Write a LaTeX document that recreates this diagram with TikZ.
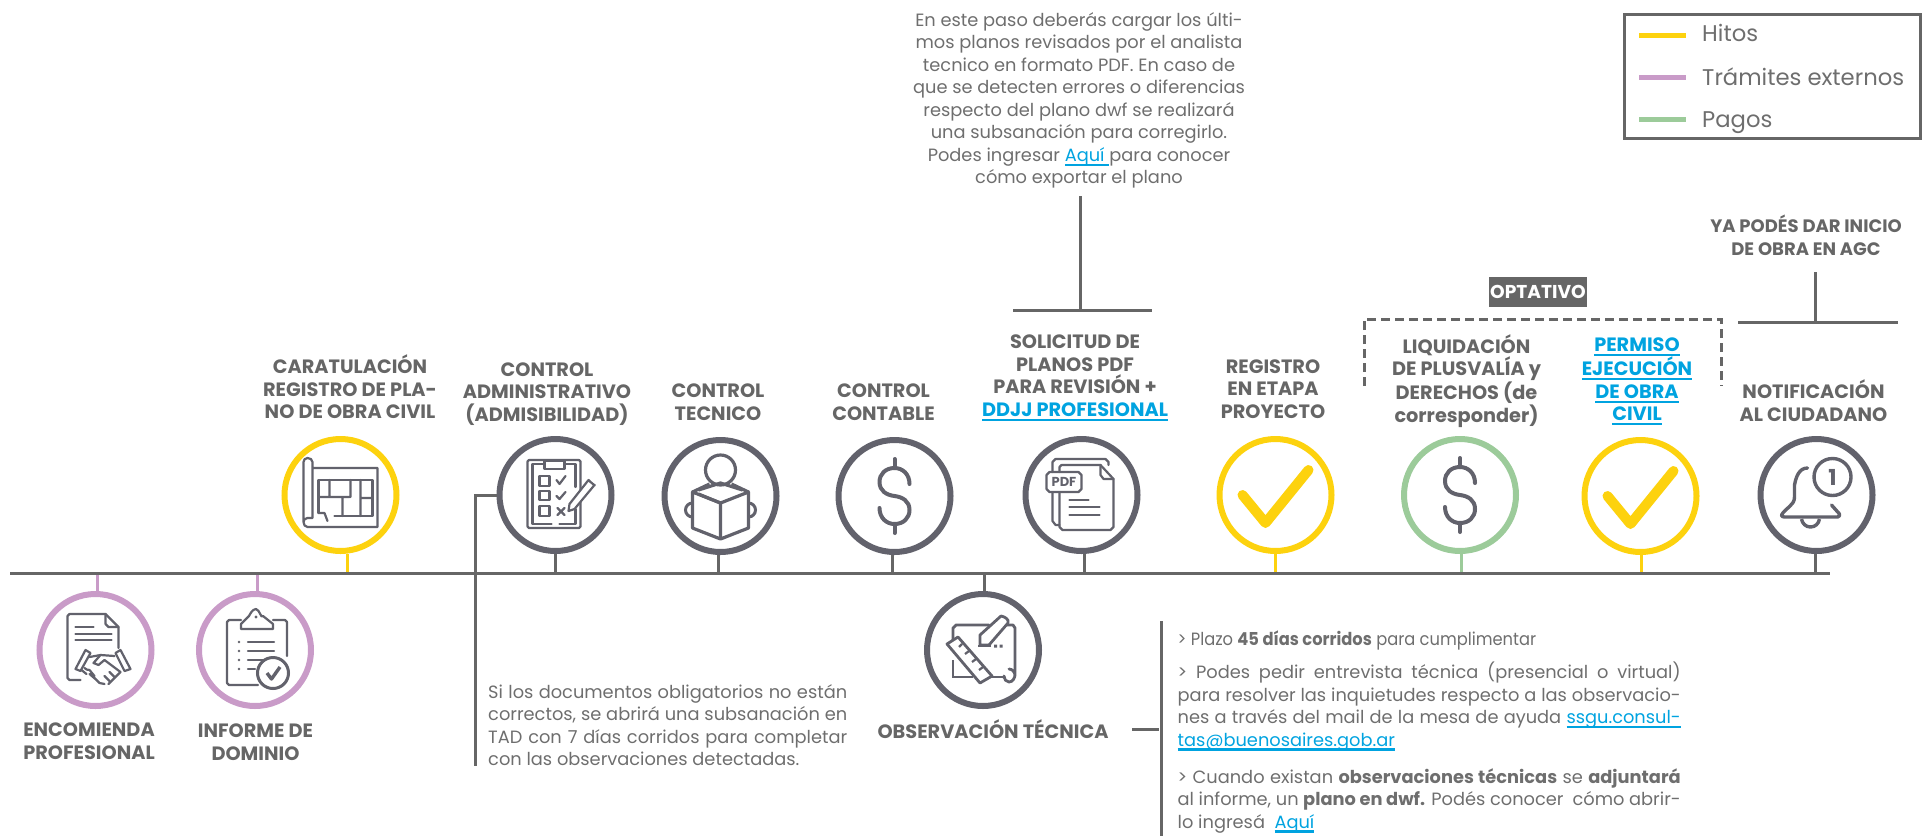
\documentclass[tikz,border=0pt]{standalone}
\usepackage{fontspec}
\usepackage{graphicx}
\setmainfont{Poppins}
\usetikzlibrary{calc}
\definecolor{txt}{HTML}{666666}
\definecolor{btxt}{HTML}{6E6E6E}
\definecolor{line}{HTML}{666666}
\definecolor{ring}{HTML}{62626C}
\definecolor{hito}{HTML}{FDD20E}
\definecolor{tram}{HTML}{C99BC8}
\definecolor{pago}{HTML}{9CCB9A}
\definecolor{link}{HTML}{00A3E0}
\newcommand\lnk[1]{{\color{link}\setbox0\hbox{#1}\rlap{\raisebox{-4.6pt}{\rule{\wd0}{2.3pt}}}\box0}}
\newcommand\jl[1]{\hbox to 503pt{#1}}
\newcommand\bd[1]{{\bfseries #1}}
\newcommand\bfs{\fontsize{17.8}{22.5}\selectfont}
\tikzset{
  x=1pt,y=-1pt,
  circ/.style={circle,line width=6pt,minimum size=112pt,inner sep=0pt,fill=white},
  rail/.style={draw=line,line width=3pt},
  tick/.style={line width=3pt},
  lab/.style={text=txt,align=center,inner sep=0pt,font=\fontsize{19.3}{22.5}\selectfont\bfseries},
  body/.style={text=btxt,inner sep=0pt,font=\bfs},
  leglab/.style={text=btxt,anchor=west,inner sep=0pt,font=\fontsize{22.7}{26}\selectfont},
  ic/.style={draw=ring,line width=2.2pt,line join=round,line cap=round},
  ich/.style={draw=hito,line width=10pt,line cap=round,line join=round},
  icd/.style={draw=ring,line width=4pt,line cap=round}
}
\newcommand\dollar[1]{\begin{scope}[shift={(#1)}]
\draw[icd] (15,-12) .. controls (15,-22) and (8,-28) .. (0,-28) .. controls (-9,-28) and (-15,-22) .. (-15,-14) .. controls (-15,-5) and (-8,-1) .. (0,0) .. controls (8,1) and (15,5) .. (15,14) .. controls (15,22) and (9,28) .. (0,28) .. controls (-8,28) and (-15,22) .. (-15,12);
\draw[icd] (0,-37)--(0,-28) (0,28)--(0,37);
\end{scope}}
\newcommand\bigcheck[1]{\begin{scope}[shift={(#1)}]
\draw[ich] (-33,0) -- (-10,28) -- (33,-25);
\end{scope}}
\begin{document}
\begin{tikzpicture}
\useasboundingbox (0,0) rectangle (1927,836);
% rail coordinates
\coordinate (railL) at (10,573);
\coordinate (railR) at (1830,573);
\coordinate (t1) at (97,573);
\coordinate (t2) at (257,573);
\coordinate (t3) at (347,573);
\coordinate (t4) at (555,573);
\coordinate (t5) at (718,573);
\coordinate (t6) at (892,573);
\coordinate (t7) at (984,573);
\coordinate (t8) at (1084,573);
\coordinate (t9) at (1275.5,573);
\coordinate (t10) at (1461,573);
\coordinate (t11) at (1641.5,573);
\coordinate (t12) at (1815,573);
% circles
\node[circ,draw=tram] (enc) at (95.5,650) {};
\node[circ,draw=tram] (inf) at (255,650) {};
\node[circ,draw=hito] (car) at (340.5,495) {};
\node[circ,draw=ring] (adm) at (555.5,495) {};
\node[circ,draw=ring] (tec) at (720.5,496) {};
\node[circ,draw=ring] (con) at (894.5,496) {};
\node[circ,draw=ring] (sol) at (1081.5,495) {};
\node[circ,draw=hito] (reg) at (1275.5,495) {};
\node[circ,draw=ring] (obs) at (983,650) {};
\node[circ,draw=pago] (liq) at (1460,495) {};
\node[circ,draw=hito] (per) at (1640.5,496) {};
\node[circ,draw=ring] (not) at (1816.5,495) {};
% ticks
\draw[tick,draw=tram] (t1) -- (t1 |- enc.north);
\draw[tick,draw=tram] (t2) -- (t2 |- inf.north);
\draw[tick,draw=hito] (t3) -- (t3 |- car.south);
\draw[tick,draw=line] (t4) -- (t4 |- adm.south);
\draw[tick,draw=line] (t5) -- (t5 |- tec.south);
\draw[tick,draw=line] (t6) -- (t6 |- con.south);
\draw[tick,draw=line] (t7) -- (t7 |- obs.north);
\draw[tick,draw=line] (t8) -- (t8 |- sol.south);
\draw[tick,draw=hito] (t9) -- (t9 |- reg.south);
\draw[tick,draw=pago] (t10) -- (t10 |- liq.south);
\draw[tick,draw=hito] (t11) -- (t11 |- per.south);
\draw[tick,draw=line] (t12) -- (t12 |- not.south);
\draw[rail] (railL) -- (railR);
% admissibility bracket
\coordinate (admB) at (475.5,766);
\draw[rail] (adm.west) -- (475.5,495) -- (admB);
\node[body,anchor=west] (admtxt) at (488,725) {\parbox{362pt}{\bfs
\hbox to 359pt{Si los documentos obligatorios no están}
\hbox to 359pt{correctos, se abrirá una subsanación en}
\hbox to 359pt{TAD con 7 días corridos para completar}
\hbox{con las observaciones detectadas.}}};
% labels
\node[lab] (lcar) at (350,387) {CARATULACIÓN\\REGISTRO DE PLA-\\NO DE OBRA CIVIL};
\node[lab] (ladm) at (547,394) {CONTROL\\ADMINISTRATIVO\\(ADMISIBILIDAD)};
\node[lab] (lenc) at (89,741) {ENCOMIENDA\\PROFESIONAL};
\node[lab] (linf) at (255.5,742) {INFORME DE\\DOMINIO};
\node[lab] (ltec) at (718,402) {CONTROL\\TECNICO};
\node[lab] (lcon) at (883.5,402) {CONTROL\\CONTABLE};
\node[lab] (lsol) at (1075,378) {SOLICITUD DE\\PLANOS PDF\\PARA REVISIÓN +\\\lnk{DDJJ PROFESIONAL}};
\node[lab] (lreg) at (1273,389) {REGISTRO\\EN ETAPA\\PROYECTO};
\node[lab] (lliq) at (1466.5,381) {LIQUIDACIÓN\\DE PLUSVALÍA y\\DERECHOS (de\\corresponder)};
\node[lab] (lper) at (1637,381.5) {\lnk{PERMISO}\\\lnk{EJECUCIÓN}\\\lnk{DE OBRA}\\\lnk{CIVIL}};
\node[lab] (lnot) at (1813.5,400.5) {NOTIFICACIÓN\\AL CIUDADANO};
\node[lab,font=\fontsize{18}{22.5}\selectfont\bfseries] (lya) at (1806,235.5) {YA PODÉS DAR INICIO\\DE OBRA EN AGC};
\node[lab,anchor=center] (lobs) at (993,729) {OBSERVACIÓN TÉCNICA};
% optativo
\node[fill=line,text=white,inner sep=0pt,minimum width=98pt,minimum height=30pt,font=\fontsize{18.6}{20}\selectfont\bfseries] (opt) at (1538,292) {OPTATIVO};
\coordinate (dA) at (1364,386);
\coordinate (dB) at (1721,386);
\draw[draw=line,line width=3pt,dash pattern=on 9pt off 5pt] (dA) -- (dA |- 0,319) -- (dB |- 0,319) -- (dB);
% top note
\node[body,align=center] (topn) at (1079,100.5) {En este paso deberás cargar los últi-\\mos planos revisados por el analista\\tecnico en formato PDF. En caso de\\que se detecten errores o diferencias\\respecto del plano dwf se realizará\\una subsanación para corregirlo.\\Podes ingresar \lnk{Aquí }para conocer\\cómo exportar el plano};
\coordinate (tnA) at (1080,196);
\coordinate (tnB) at (1080,310);
\coordinate (tnL) at (1013,310);
\coordinate (tnR) at (1152,310);
\draw[rail] (tnA) -- (tnB);
\draw[rail] (tnL) -- (tnR);
% right note
\coordinate (nA) at (1815,272);
\coordinate (nB) at (1815,322);
\coordinate (nL) at (1738,322);
\coordinate (nR) at (1898,322);
\draw[rail] (nA) -- (nB);
\draw[rail] (nL) -- (nR);
% observation panel
\coordinate (oT) at (1161.5,621);
\coordinate (oB) at (1161.5,836);
\coordinate (oL) at (1132,729);
\coordinate (oR) at (1159,729);
\draw[rail] (oT) -- (oB);
\draw[rail] (oL) -- (oR);
\node[body,anchor=west] (o1) at (1177.5,640) {\scalebox{0.915}[1]{> Plazo \bd{45 días corridos} para cumplimentar}};
\node[body,anchor=west] (o2) at (1177.5,706.5) {\parbox{510pt}{\bfs
\jl{> Podes pedir entrevista técnica (presencial o virtual)}
\jl{para resolver las inquietudes respecto a las observacio-}
\jl{nes a través del mail de la mesa de ayuda \lnk{ssgu.consul-}}
\hbox{\lnk{tas@buenosaires.gob.ar}}}};
\node[body,anchor=west] (o3) at (1177.5,800.5) {\parbox{510pt}{\bfs
\jl{> Cuando existan \bd{observaciones técnicas} se \bd{adjuntará}}
\jl{al informe, un \bd{plano en dwf.} Podés conocer\ \ cómo abrir-}
\hbox{lo ingresá\ \ \lnk{Aquí}}}};
% legend
\node[draw=line,line width=3pt,minimum width=296pt,minimum height=124pt,inner sep=0pt] (leg) at (1772,76.5) {};
\coordinate (a1) at (1639,35); \coordinate (a2) at (1686,35);
\coordinate (b1) at (1639,77); \coordinate (b2) at (1686,77);
\coordinate (c1) at (1639,119); \coordinate (c2) at (1686,119);
\draw[draw=hito,line width=5pt] (a1) -- (a2);
\draw[draw=tram,line width=5pt] (b1) -- (b2);
\draw[draw=pago,line width=5pt] (c1) -- (c2);
\node[leglab] (h1) at (1702,33) {Hitos};
\node[leglab] (h2) at (1702,77) {Trámites externos};
\node[leglab] (h3) at (1702,122.5) {Pagos};
% icons
\dollar{894.5,496}
\dollar{1460,495}
\bigcheck{1275.5,495}
\bigcheck{1640.5,496}
% plan
\begin{scope}[shift={(340.5,495)}]
\draw[ic] (-28,-27) -- (37,-27) -- (37,32) -- (-33,32) to[out=180,in=-90] (-37,27) -- (-37,-33) to[out=90,in=180] (-33,-37) to[out=0,in=90] (-28,-33) -- (-28,23) -- (-33,23) to[out=180,in=90] (-37,27);
\draw[ic] (-22,18) -- (-22,-15) -- (32,-15) -- (32,21) -- (-6,21);
\draw[ic] (-11,-15) -- (-11,2) (-22,2) -- (9,2) (10,-15) -- (10,2) (2,2) -- (2,21) (20,-15) -- (20,21) (20,3) -- (32,3) (-22,18) -- (-16,18) -- (-13,26);
\end{scope}
% checklist
\begin{scope}[shift={(555.5,495)}]
\draw[ic,rounded corners=1.5pt] (-28,-35) rectangle (25,33);
\draw[ic] (-11,-31) -- (-23,-31) -- (-23,29) -- (-4,29) (4,29) -- (20,29) -- (20,14) (20,-8) -- (20,-31) -- (9,-31);
\draw[ic] (-11,-34) rectangle (9,-26);
\draw[ic] (-16,-19) rectangle (-6,-9) (-16,-4) rectangle (-6,5) (-16,11) rectangle (-6,21);
\draw[ic] (1,-15) -- (4,-11) -- (10,-19) (1,1) -- (4,4) -- (10,-3) (2,13) -- (9,20) (9,13) -- (2,20);
\draw[ic,fill=white] (14,9) -- (33,-15) to[out=-50,in=-40] (39,-10) -- (19,14) -- (13,16) -- cycle;
\end{scope}
% handshake document
\begin{scope}[shift={(95.5,650)}]
\draw[ic] (-15,30) -- (-26,30) -- (-28,28) -- (-28,-34) -- (-26,-36) -- (10,-36) -- (23,-23) -- (23,-2);
\draw[ic] (10,-36) -- (10,-26) -- (13,-23) -- (23,-23);
\draw[ic] (-20,-23) -- (-2,-23) (-20,-16) -- (16,-16) (-20,-10) -- (16,-10);
\draw[ic,fill=white] (-20,19) -- (-10,0) -- (-5,3) -- (-15,21) -- cycle;
\draw[ic,fill=white] (35,19) -- (25,0) -- (20,3) -- (29,21) -- cycle;
\draw[ic] (-6,7) -- (5,5) -- (19,6);
\draw[ic] (5,5) -- (-2,13) -- (3,15) -- (9,10) -- (25,22) -- (13,34);
\draw[ic] (-14,20) -- (-9,24) (-11,18) to[out=-45,in=180] (-6,20) -- (-1,26) (-6,24) -- (1,30) (-1,28) -- (4,33) to[out=0,in=180] (9,34) (9,26) -- (14,31) (14,22) -- (19,27);
\end{scope}
% clipboard
\begin{scope}[shift={(255,650)}]
\draw[ic] (-14,-30) -- (-26,-30) -- (-28,-28) -- (-28,33) -- (-26,35) -- (3,35);
\draw[ic] (18,-30) -- (30,-30) -- (32,-28) -- (32,6);
\draw[ic] (-14,-21) -- (18,-21) -- (18,-26) -- (8,-34) to[out=-120,in=-10] (1,-41) to[out=190,in=60] (-6,-34) -- (-14,-26) -- cycle;
\fill[ring] (1,-33) circle (1.6);
\fill[ring] (-16,-8) circle (1.4) (-16,1) circle (1.4) (-16,10) circle (1.4) (-16,19) circle (1.4);
\draw[ic] (-7,-8) -- (19,-8) (-7,1) -- (19,1) (-7,10) -- (8,10) (-7,19) -- (0,19);
\draw[draw=ring,line width=3pt,fill=white] (18,23) circle (15.5);
\draw[draw=ring,line width=3.4pt,line join=round] (12,23) -- (16.5,29) -- (25,17);
\end{scope}
% reader
\begin{scope}[shift={(720.5,496)}]
\draw[draw=ring,line width=3.2pt] (0,-26) circle (15);
\draw[draw=ring,line width=3.2pt,line join=round] (0,7) -- (-28,-4) -- (-28,32) -- (0,43) -- (28,32) -- (28,-4) -- cycle (0,7) -- (0,43);
\draw[draw=ring,line width=3.2pt,line join=round] (-28,-4) -- (-11,-12) (28,-4) -- (11,-12) (-22,-6) -- (0,-13) -- (22,-6) (0,7) -- (-22,-2);
\draw[draw=ring,line width=3pt] (-28,7) to[out=180,in=90] (-35,14) to[out=-90,in=180] (-28,21) (28,7) to[out=0,in=90] (35,14) to[out=-90,in=0] (28,21);
\end{scope}
% pdf
\begin{scope}[shift={(1081.5,495)}]
\draw[ic] (-29,-23) -- (-29,-33) -- (-26,-36) -- (24,-36) -- (27,-33) -- (27,-30);
\draw[ic] (-29,-2) -- (-29,26) -- (-26,30) -- (-22,30);
\draw[ic] (-22,-23) -- (-22,-28) -- (-20,-30) -- (19,-30) -- (32,-16) -- (32,32) -- (29,35) -- (-19,35) -- (-22,32) -- (-22,-2);
\draw[ic] (19,-30) -- (19,-20) -- (22,-16) -- (32,-16);
\draw[ic] (-32,-23) -- (-3,-23) -- (0,-20) -- (0,-6) -- (-3,-3) -- (-32,-3) -- (-35,-6) -- (-35,-20) -- cycle;
\node[text=ring,inner sep=0pt,font=\fontsize{13}{13}\selectfont\bfseries] (pdft) at (-17.5,-13) {PDF};
\draw[ic] (-12,5) -- (7,5) (-12,12) -- (18,12) (-12,20) -- (18,20);
\end{scope}
% bell
\begin{scope}[shift={(1816.5,495)}]
\draw[draw=ring,line width=3.4pt] (16,-18) circle (18.5);
\node[text=ring,inner sep=0pt,font=\fontsize{22}{22}\selectfont\bfseries] (bell1) at (16,-18) {1};
\draw[draw=ring,line width=3.4pt,line cap=round,line join=round] (-9,-27) to[out=180,in=80] (-22,-10) -- (-22,2) to[out=-90,in=60] (-35,20) to[out=-120,in=180] (-32,22) -- (21,22) to[out=0,in=-60] (23,19) -- (15,10);
\draw[draw=ring,line width=3.4pt] (-15,24) to[out=-80,in=180] (-6,32) to[out=0,in=-100] (3,24);
\end{scope}
% observation
\begin{scope}[shift={(983,650)}]
\draw[draw=ring,line width=2.8pt,line join=round,line cap=round] (-30,-9) -- (-30,-22) -- (-27,-25) -- (6,-25) (20,-25) -- (30,-25) -- (32,-22) -- (32,26) to[out=90,in=0] (26,19) (32,24) to[out=-90,in=0] (26,32) to[out=180,in=-90] (21,26) -- (21,28);
\draw[draw=ring,line width=2.8pt] (-30,10) -- (-30,27) -- (-10,27) (8,27) -- (21,27);
\draw[draw=ring,line width=2.8pt,fill=white,line join=round] (-36,-6) -- (-25,-13) -- (9,26) -- (-3,33) -- cycle;
\draw[draw=ring,line width=2.2pt] (-24,-3) -- (-21,-6) (-18,4) -- (-14,1) (-11,12) -- (-7,9) (-4,20) -- (0,17);
\draw[draw=ring,line width=2.8pt,line join=round,fill=white] (-3,-5) -- (-3,-15) -- (18,-34) to[out=-10,in=70] (25,-27) -- (6,-5) -- cycle;
\draw[draw=ring,line width=2.8pt] (-5,-4) -- (8,-4);
\fill[ring] (11,-5.5) rectangle (14,-2.5) (16.5,-5.5) rectangle (19.5,-2.5);
\end{scope}
\end{tikzpicture}
\end{document}
